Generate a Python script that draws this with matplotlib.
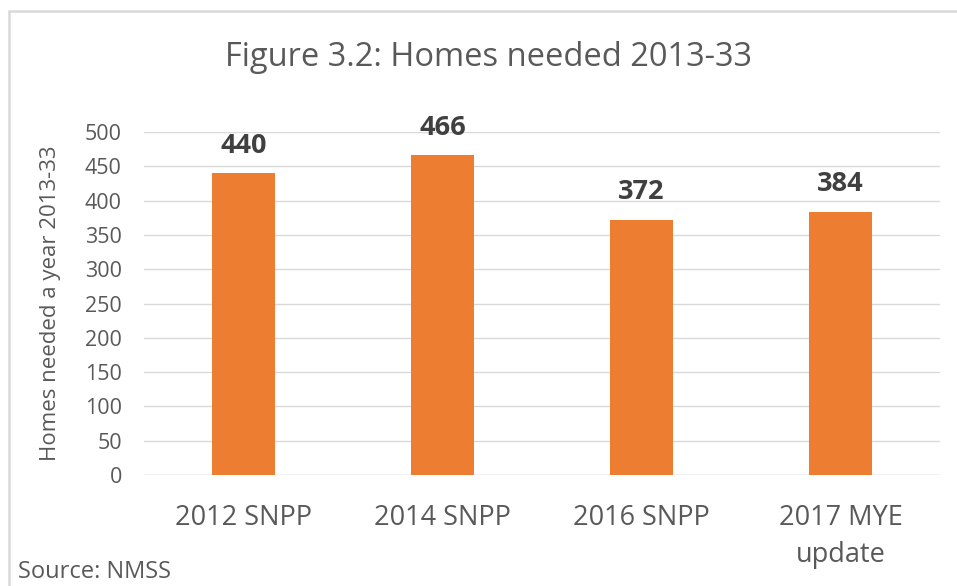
import matplotlib.pyplot as plt
from matplotlib.patches import Rectangle

plt.rcParams['font.family'] = ['Open Sans', 'DejaVu Sans']

# Data
categories = ['2012 SNPP', '2014 SNPP', '2016 SNPP', '2017 MYE\nupdate']
homes_needed = [440, 466, 372, 384]
y_ticks = [0, 50, 100, 150, 200, 250, 300, 350, 400, 450, 500]

bar_color = '#ED7D31'
text_grey = '#595959'
label_grey = '#404040'
grid_grey = '#D9D9D9'

fig = plt.figure(figsize=(9.57, 5.86), dpi=100)

# chart area border (only left/top visible in the crop)
fig.patches.append(Rectangle((9 / 957, -0.1), 1.2, (586 - 11) / 586 + 0.1,
                             transform=fig.transFigure, fill=False,
                             edgecolor=grid_grey, linewidth=1.8))

ax = fig.add_axes([144 / 957, 111 / 586, 796 / 957, 343 / 586])
x = range(len(categories))
bars = ax.bar(x, homes_needed, width=0.312, color=bar_color, zorder=3)

ax.set_xlim(-0.5, len(categories) - 0.5)
ax.set_ylim(0, 500)
ax.set_yticks(y_ticks)
ax.set_xticks(list(x))
ax.set_xticklabels(categories, fontsize=19.5, color=text_grey, linespacing=1.4)
ax.tick_params(axis='x', length=0, pad=21)
ax.tick_params(axis='y', length=0, pad=16, labelsize=15.5, labelcolor=text_grey)
ax.grid(axis='y', color=grid_grey, linewidth=1, zorder=0)
for s in ax.spines.values():
    s.set_visible(False)
ax.axhline(0, color=grid_grey, linewidth=1, zorder=1)

ax.set_ylabel('Homes needed a year 2013-33', fontsize=16, color=text_grey,
              labelpad=17)

for b, v in zip(bars, homes_needed):
    ax.annotate(str(v), (b.get_x() + b.get_width() / 2, v),
                xytext=(0, 10.5), textcoords='offset points', ha='center',
                va='bottom', fontsize=19.5, fontweight='bold',
                color=label_grey, annotation_clip=False)

fig.text(488 / 957, 1 - 58 / 586, 'Figure 3.2: Homes needed 2013-33',
         ha='center', va='center', fontsize=23.5, color=text_grey)
fig.text(18 / 957, 1 - 572 / 586, 'Source: NMSS', ha='left', va='center',
         fontsize=17, color=text_grey)

fig.savefig('out.png', dpi=100)
